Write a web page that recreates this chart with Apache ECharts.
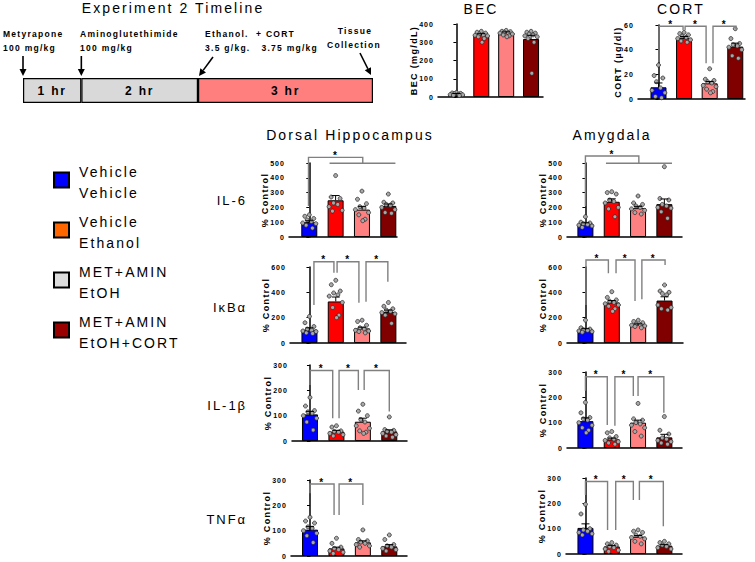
<!DOCTYPE html>
<html>
<head>
<meta charset="utf-8">
<script src="https://cdn.jsdelivr.net/npm/echarts@6.0.0/dist/echarts.min.js"></script>
<style>
html, body { margin: 0; padding: 0; background: #fff; }
#chart { width: 755px; height: 562px; }
/* the figure uses letter-spaced text everywhere */
#chart text { letter-spacing: 0.15em; }
</style>
</head>
<body>
<div id="chart"></div>
<script>
// group order: Vehicle/Vehicle, Vehicle/Ethanol, MET+AMIN/EtOH, MET+AMIN/EtOH+CORT
const barColors = ['#0000ff', '#ff0000', '#ff8080', '#800000'];
const legendColors = ['#0000ff', '#ff6600', '#dddddd', '#990000'];
const legendLines = [['Vehicle', 'Vehicle'], ['Vehicle', 'Ethanol'], ['MET+AMIN', 'EtOH'], ['MET+AMIN', 'EtOH+CORT']];

// timeline (hours)
const timelineLabels = ['1 hr', '2 hr', '3 hr'];
const timelineHours = [1, 2, 3];
const eventHours = [0, 1, 3, 6];

// BEC (mg/dL)
const becMean = [15, 340, 352, 318];
const becSem = [4, 7, 5, 20];
const becDots = [
  [25, 22, 20, 18, 15, 13, 12, 10, 8],
  [360, 355, 350, 345, 340, 338, 335, 330, 320, 300],
  [365, 360, 358, 355, 352, 350, 345, 340, 335, 330],
  [360, 355, 350, 345, 340, 335, 330, 320, 300, 130]
];

// CORT (ug/dl)
const cortMean = [9.5, 49.5, 12.7, 42.5];
const cortSem = [3.5, 1.2, 1.5, 2.8];
const cortDots = [
  [27.5, 19, 17, 14, 9, 7, 5, 2, 1],
  [54, 53, 52, 51, 50, 49, 48, 47, 46],
  [24.5, 16, 15, 14, 13, 11, 10, 8, 6, 5],
  [57, 49, 45, 44, 43, 42, 40, 35, 33]
];
// [x1, x2, top, leftEnd, rightEnd]
const cortBrackets = [[0.02, 0.96, 59, 30, 56], [1.04, 1.86, 59, 56, 29], [2.13, 3.03, 59, 29, 56.5]];

// Dorsal hippocampus, % control
const dIl6Mean = [100, 248, 185, 210];
const dIl6Sem = [10, 32, 22, 13];
const dIl6Dots = [
  [150, 140, 125, 115, 105, 95, 90, 80, 60],
  [415, 270, 260, 230, 220, 205, 180, 175],
  [310, 255, 225, 205, 195, 185, 165, 150, 120, 110],
  [290, 235, 230, 220, 215, 200, 185, 165, 160]
];
// [xLeft, xMid, top, leftEnd, midEnd, lineStart, lineEnd]
const dIl6Brackets = [[-0.03, 2.03, 538, 209, 498, 0.77, 3.27]];

const dIkbMean = [105, 328, 115, 245];
const dIkbSem = [15, 35, 10, 15];
const dIkbDots = [
  [210, 160, 130, 110, 100, 95, 90, 80, 75],
  [495, 460, 410, 395, 380, 370, 320, 280, 220, 200],
  [180, 170, 140, 120, 110, 100, 95, 90, 80],
  [320, 290, 270, 260, 250, 240, 230, 220, 155]
];
const dIkbBrackets = [[0.17, 0.93, 642, 300, 555], [1.05, 1.88, 642, 555, 318], [2.15, 2.98, 642, 326, 484]];

const dIl1bMean = [105, 37, 76, 38];
const dIl1bSem = [12, 5, 14, 6];
const dIl1bDots = [
  [172, 138, 120, 115, 110, 100, 90, 75, 43],
  [60, 55, 40, 38, 35, 30, 25, 20],
  [145, 118, 100, 85, 75, 60, 50, 40, 35, 30],
  [95, 45, 42, 38, 35, 30, 25, 20, 15]
];
const dIl1bBrackets = [[0, 0.86, 278, 221, 90], [1.1, 1.83, 278, 90, 201], [2.05, 3.0, 278, 201, 116]];

const dTnfMean = [104, 30, 54, 38];
const dTnfSem = [12, 5, 6, 7];
const dTnfDots = [
  [153, 138, 130, 115, 110, 100, 90, 80, 53],
  [70, 50, 35, 30, 25, 20, 15, 10],
  [103, 65, 60, 55, 50, 45, 40, 35],
  [83, 65, 45, 40, 35, 30, 25, 20]
];
const dTnfBrackets = [[0, 0.91, 284, 248, 162], [1.1, 2.0, 284, 162, 201]];

// Amygdala, % control
const aIl6Mean = [90, 238, 195, 222];
const aIl6Sem = [6, 20, 12, 35];
const aIl6Dots = [
  [137, 100, 95, 90, 85, 80, 75, 65],
  [306, 300, 290, 250, 240, 230, 200, 190, 137],
  [277, 230, 220, 210, 200, 190, 180, 165, 155],
  [475, 260, 250, 220, 210, 200, 195, 170, 126]
];
const aIl6Brackets = [[0, 2.03, 547, 209, 498, 0.78, 3.29]];

const aIkbMean = [105, 320, 145, 335];
const aIkbSem = [8, 15, 6, 30];
const aIkbDots = [
  [180, 120, 110, 105, 100, 95, 90, 85],
  [405, 360, 340, 330, 320, 310, 300, 290, 270, 250],
  [180, 170, 160, 150, 145, 140, 135, 130, 120],
  [458, 410, 400, 390, 380, 300, 280, 270, 260]
];
const aIkbBrackets = [[0.02, 0.87, 655, 300, 550], [1.16, 1.88, 655, 550, 331], [2.14, 3.02, 655, 345, 616]];

const aIl1bMean = [106, 34, 100, 42];
const aIl1bSem = [13, 5, 10, 12];
const aIl1bDots = [
  [180, 139, 120, 115, 110, 100, 90, 80, 70, 60],
  [65, 60, 45, 40, 35, 30, 25, 20, 15],
  [176, 115, 110, 100, 95, 90, 80, 65, 47],
  [124, 70, 55, 40, 35, 30, 25, 20, 15]
];
const aIl1bBrackets = [[0, 0.83, 281, 226, 91], [1.12, 1.82, 281, 88, 205], [2.0, 2.98, 281, 205, 139]];

const aTnfMean = [103, 30, 68, 33];
const aTnfSem = [16, 4, 5, 4];
const aTnfDots = [
  [196, 158, 100, 95, 90, 85, 80, 75],
  [45, 40, 35, 30, 25, 20, 15, 10],
  [95, 90, 85, 75, 70, 65, 60, 50, 40],
  [50, 45, 40, 35, 30, 25, 20]
];
const aTnfBrackets = [[0, 0.84, 286, 233, 95], [1.15, 1.82, 286, 95, 213], [2.05, 2.96, 286, 213, 110]];

const FONT = 'Liberation Sans, Arial, sans-serif';
const PCT = '% Control';

// layout of each small plot
const panels = [
  { mean: becMean, sem: becSem, dots: becDots, brackets: [], max: 400, interval: 100, name: 'BEC (mg/dL)', left: 438, top: 24, width: 105, height: 73, xmin: -0.74, xmax: 3.48, gap: 15 },
  { mean: cortMean, sem: cortSem, dots: cortDots, brackets: cortBrackets, max: 60, interval: 20, name: 'CORT (µg/dl)', left: 638, top: 25, width: 107, height: 74, xmin: -0.8, xmax: 3.38, gap: 11 },
  { mean: dIl6Mean, sem: dIl6Sem, dots: dIl6Dots, brackets: dIl6Brackets, max: 500, interval: 100, name: PCT, left: 289, top: 163, width: 108, height: 74, xmin: -0.77, xmax: 3.33, gap: 16 },
  { mean: dIkbMean, sem: dIkbSem, dots: dIkbDots, brackets: dIkbBrackets, max: 600, interval: 200, name: PCT, left: 290, top: 267, width: 116, height: 76, xmin: -0.74, xmax: 3.67, gap: 16 },
  { mean: dIl1bMean, sem: dIl1bSem, dots: dIl1bDots, brackets: dIl1bBrackets, max: 300, interval: 100, name: PCT, left: 292, top: 365, width: 115, height: 76, xmin: -0.68, xmax: 3.67, gap: 16 },
  { mean: dTnfMean, sem: dTnfSem, dots: dTnfDots, brackets: dTnfBrackets, max: 300, interval: 100, name: PCT, left: 291, top: 480, width: 116, height: 76, xmin: -0.72, xmax: 3.67, gap: 16 },
  { mean: aIl6Mean, sem: aIl6Sem, dots: aIl6Dots, brackets: aIl6Brackets, max: 500, interval: 100, name: PCT, left: 567, top: 163, width: 115, height: 74, xmin: -0.70, xmax: 3.67, gap: 17.5 },
  { mean: aIkbMean, sem: aIkbSem, dots: aIkbDots, brackets: aIkbBrackets, max: 600, interval: 200, name: PCT, left: 567, top: 267, width: 116, height: 76, xmin: -0.70, xmax: 3.70, gap: 17.5 },
  { mean: aIl1bMean, sem: aIl1bSem, dots: aIl1bDots, brackets: aIl1bBrackets, max: 300, interval: 100, name: PCT, left: 567, top: 372, width: 115, height: 76, xmin: -0.70, xmax: 3.67, gap: 17.5 },
  { mean: aTnfMean, sem: aTnfSem, dots: aTnfDots, brackets: aTnfBrackets, max: 300, interval: 100, name: PCT, left: 566, top: 478, width: 116, height: 76, xmin: -0.74, xmax: 3.67, gap: 17.5 }
];

// horizontal placement of the dots inside a bar
const spread = [0, -0.17, 0.17, -0.08, 0.08, -0.25, 0.25, -0.12, 0.12, 0.03];

function errorRender(params, api) {
  const x = api.value(0), m = api.value(1), s = api.value(2);
  const p0 = api.coord([x, m]);
  const p1 = api.coord([x, m + s]);
  return {
    type: 'group',
    children: [
      { type: 'line', shape: { x1: p0[0], y1: p0[1], x2: p1[0], y2: p1[1] }, style: { stroke: '#000', lineWidth: 1 } },
      { type: 'line', shape: { x1: p1[0] - 4, y1: p1[1], x2: p1[0] + 4, y2: p1[1] }, style: { stroke: '#000', lineWidth: 1 } }
    ]
  };
}

function makeBracketRender(list) {
  return function (params, api) {
    const b = list[params.dataIndex];
    const c = (p) => api.coord(p);
    let lines, star;
    if (b.length === 5) {
      const [x1, x2, yt, yl, yr] = b;
      lines = [[c([x1, yl]), c([x1, yt]), c([x2, yt]), c([x2, yr])]];
      star = c([(x1 + x2) / 2, yt]);
    } else {
      const [xl, xm, yt, yl, ym, xs, xe] = b;
      lines = [[c([xl, yl]), c([xl, yt]), c([xm, yt]), c([xm, ym])], [c([xs, ym]), c([xe, ym])]];
      star = c([(xl + xm) / 2, yt]);
    }
    const children = lines.map((pts) => ({
      type: 'polyline', shape: { points: pts },
      style: { stroke: '#808080', lineWidth: 1.4, fill: null }
    }));
    children.push({
      type: 'text', x: star[0], y: star[1] - 2,
      style: { text: '*', fill: '#000', font: 'bold 10px ' + FONT, textAlign: 'center', textVerticalAlign: 'middle', align: 'center', verticalAlign: 'middle' }
    });
    return { type: 'group', children: children };
  };
}

const grids = [], xAxes = [], yAxes = [], series = [];

panels.forEach((p, k) => {
  grids.push({ left: p.left, top: p.top, width: p.width, height: p.height, outerBoundsMode: 'none' });
  xAxes.push({
    gridIndex: k, type: 'value', min: p.xmin, max: p.xmax,
    axisLine: { show: true, onZero: true, lineStyle: { color: '#000', width: 1.5 } },
    axisTick: { show: false }, axisLabel: { show: false }, splitLine: { show: false }
  });
  yAxes.push({
    gridIndex: k, type: 'value', min: 0, max: p.max, interval: p.interval,
    name: p.name, nameLocation: 'middle', nameRotate: 90, nameGap: p.gap,
    nameTextStyle: { fontFamily: FONT, fontWeight: 'bold', fontSize: 9, color: '#000' },
    axisLine: { show: true, lineStyle: { color: '#000', width: 1.5 } },
    axisTick: { show: true, length: 3, lineStyle: { color: '#000', width: 1 } },
    axisLabel: { fontFamily: FONT, fontWeight: 'bold', fontSize: 7, color: '#000', margin: 4 },
    splitLine: { show: false }
  });
  series.push({
    type: 'bar', xAxisIndex: k, yAxisIndex: k, barWidth: 16, z: 2,
    data: p.mean.map((m, i) => ({ value: [i, m], itemStyle: { color: barColors[i], borderColor: '#000', borderWidth: 1 } }))
  });
  const pts = [];
  p.dots.forEach((vals, i) => {
    vals.slice().sort((a, b) => b - a).forEach((v, j) => pts.push([i + spread[j % spread.length], v]));
  });
  series.push({
    type: 'scatter', xAxisIndex: k, yAxisIndex: k, z: 3, symbolSize: 4,
    itemStyle: { color: '#a8a8a8', borderColor: '#222', borderWidth: 0.7, opacity: 1 },
    data: pts
  });
  series.push({
    type: 'custom', xAxisIndex: k, yAxisIndex: k, z: 4, renderItem: errorRender,
    data: p.mean.map((m, i) => [i, m, p.sem[i]])
  });
  if (p.brackets.length) {
    series.push({
      type: 'custom', xAxisIndex: k, yAxisIndex: k, z: 5, clip: false,
      renderItem: makeBracketRender(p.brackets),
      data: p.brackets.map((b) => [b[0], b[2]])
    });
  }
});

// timeline grid
const tl = panels.length;
grids.push({ left: 23, top: 78, width: 350, height: 25, outerBoundsMode: 'none' });
xAxes.push({ gridIndex: tl, type: 'value', min: 0, max: 6, show: false });
yAxes.push({ gridIndex: tl, type: 'category', data: ['timeline'], show: false });
const timelineColors = ['#d9d9d9', '#d9d9d9', '#ff7f7f'];
timelineHours.forEach((h, i) => {
  series.push({
    type: 'bar', xAxisIndex: tl, yAxisIndex: tl, stack: 'timeline', barWidth: 25,
    itemStyle: { color: timelineColors[i], borderColor: '#000', borderWidth: 1.2 },
    label: { show: true, position: 'inside', formatter: timelineLabels[i], fontFamily: FONT, fontWeight: 'bold', fontSize: 12, color: '#000' },
    data: [h]
  });
});

// arrows: start/tip offsets from the event point on the top edge of the box
const arrowShapes = [[0, -22, 0, -2], [0, -22, 0, -2], [15, -21, 1, -2], [-13, -25, -2, -3]];
function arrowParts(sx, sy, tx, ty) {
  const dx = tx - sx, dy = ty - sy, len = Math.hypot(dx, dy);
  const ux = dx / len, uy = dy / len, hl = 7, hw = 3.5;
  const bx = tx - ux * hl, by = ty - uy * hl;
  return [
    { type: 'line', shape: { x1: sx, y1: sy, x2: bx, y2: by }, style: { stroke: '#000', lineWidth: 1.6 } },
    { type: 'polygon', shape: { points: [[tx, ty], [bx - uy * hw, by + ux * hw], [bx + uy * hw, by - ux * hw]] }, style: { fill: '#000' } }
  ];
}
series.push({
  type: 'custom', xAxisIndex: tl, yAxisIndex: tl, z: 6, clip: false,
  data: eventHours.map((h) => [h, 0]),
  renderItem: function (params, api) {
    const pt = api.coord([api.value(0), 0]);
    const top = pt[1] - 12.5;
    const s = arrowShapes[params.dataIndex];
    return { type: 'group', children: arrowParts(pt[0] + s[0], top + s[1], pt[0] + s[2], top + s[3]) };
  }
});

function txt(text, x, y, size, opts) {
  opts = opts || {};
  return {
    type: 'text', x: x, y: y, silent: true,
    style: {
      text: text, fill: '#000',
      font: (opts.bold ? 'bold ' : '') + size + 'px ' + FONT,
      textAlign: opts.align || 'left', textVerticalAlign: 'middle'
    }
  };
}

const graphics = [
  txt('Experiment 2 Timeline', 173, 8, 14, { align: 'center' }),
  txt('BEC', 481, 9, 14, { align: 'center' }),
  txt('CORT', 681, 9, 14, { align: 'center' }),
  txt('Dorsal Hippocampus', 350, 135, 14, { align: 'center' }),
  txt('Amygdala', 612, 135, 14, { align: 'center' }),
  txt('Metyrapone', 3, 34, 8.5, { bold: true }),
  txt('100 mg/kg', 3, 48, 8.5, { bold: true }),
  txt('Aminoglutethimide', 80, 34, 8.5, { bold: true }),
  txt('100 mg/kg', 80, 48, 8.5, { bold: true }),
  txt('Ethanol.  + CORT', 205, 33.5, 8.5, { bold: true }),
  txt('3.5 g/kg.   3.75 mg/kg', 205, 47.5, 8.5, { bold: true }),
  txt('Tissue', 355, 31, 8.5, { bold: true, align: 'center' }),
  txt('Collection', 354, 45, 8.5, { bold: true, align: 'center' }),
  txt('IL-6', 247, 200, 13, { align: 'right' }),
  txt('IκBα', 247, 307, 13, { align: 'right' }),
  txt('IL-1β', 247, 405, 13, { align: 'right' }),
  txt('TNFα', 247, 519, 13, { align: 'right' })
];
legendLines.forEach((lines, i) => {
  const cy = 180 + i * 50;
  graphics.push({
    type: 'rect', silent: true, shape: { x: 54, y: cy - 7.5, width: 15, height: 15 },
    style: { fill: legendColors[i], stroke: '#000', lineWidth: 2 }
  });
  graphics.push(txt(lines[0], 79, cy - 8.5, 14));
  graphics.push(txt(lines[1], 79, cy + 12.5, 14));
});

const chart = echarts.init(document.getElementById('chart'), null, { renderer: 'svg' });
chart.setOption({
  animation: false,
  backgroundColor: '#fff',
  textStyle: { fontFamily: FONT },
  grid: grids,
  xAxis: xAxes,
  yAxis: yAxes,
  series: series,
  graphic: graphics
});
</script>
</body>
</html>
